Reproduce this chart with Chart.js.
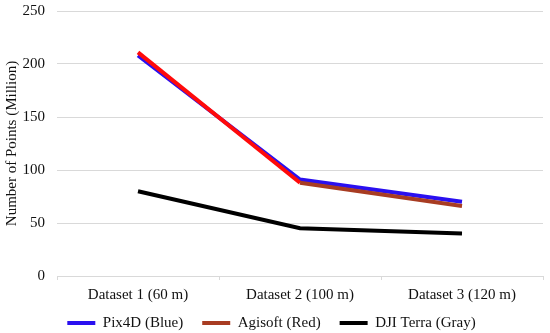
<!DOCTYPE html>
<html>
<head>
<meta charset="utf-8">
<script src="https://cdn.jsdelivr.net/npm/chart.js@4/dist/chart.umd.min.js"></script>
<style>
html,body{margin:0;padding:0;background:#fff;}
#wrap{width:550px;height:333px;}
</style>
</head>
<body>
<div id="wrap"><canvas id="c" width="550" height="333"></canvas></div>
<script>
const categories = ["Dataset 1 (60 m)", "Dataset 2 (100 m)", "Dataset 3 (120 m)"];
const pix4d = [208, 91, 70];
const agisoft = [211, 88, 66];
const djiTerra = [80, 45, 40];
const yTicks = [0, 50, 100, 150, 200, 250];

const FONT = "'Liberation Serif', 'Times New Roman', serif";

const legendShift = {
  id: 'legendShift',
  afterLayout(chart) {
    const lg = chart.legend;
    lg.top = 296.5;
    lg.bottom = chart.height;
    lg.height = lg.bottom - lg.top;
  }
};

new Chart(document.getElementById('c'), {
  type: 'line',
  plugins: [legendShift],
  data: {
    labels: categories,
    datasets: [
      {
        label: 'Pix4D (Blue)',
        data: pix4d,
        borderColor: '#2a10f0',
        backgroundColor: '#2a10f0',
        borderWidth: 4,
        pointRadius: 0,
        tension: 0,
        order: 1
      },
      {
        label: 'Agisoft (Red)',
        data: agisoft,
        borderColor: '#a83c22',
        backgroundColor: '#a83c22',
        borderWidth: 4,
        pointRadius: 0,
        tension: 0,
        order: 0,
        segment: {
          borderColor: c => c.p0DataIndex === 0 ? '#ff0a0a' : '#a83c22'
        }
      },
      {
        label: 'DJI Terra (Gray)',
        data: djiTerra,
        borderColor: '#000000',
        backgroundColor: '#000000',
        borderWidth: 4,
        pointRadius: 0,
        tension: 0,
        order: 2
      }
    ]
  },
  options: {
    responsive: false,
    animation: false,
    devicePixelRatio: 1,
    layout: { padding: { top: 11, right: 7, left: 0, bottom: 0 } },
    plugins: {
      tooltip: { enabled: false },
      legend: {
        position: 'bottom',
        maxHeight: 28,
        labels: {
          usePointStyle: true,
          pointStyle: 'line',
          pointStyleWidth: 28,
          boxHeight: 4,
          color: '#111',
          padding: 19,
          sort: (a, b) => a.datasetIndex - b.datasetIndex,
          font: { family: FONT, size: 15 }
        }
      }
    },
    scales: {
      x: {
        offset: true,
        afterFit: s => { s.height = 29; },
        grid: {
          offset: true,
          drawOnChartArea: false,
          drawTicks: true,
          tickLength: 4,
          color: '#d9d9d9'
        },
        border: { display: true, color: '#d9d9d9', width: 1 },
        ticks: {
          color: '#111',
          padding: 6,
          maxRotation: 0,
          font: { family: FONT, size: 15 }
        }
      },
      y: {
        min: 0,
        max: 250,
        afterBuildTicks: axis => { axis.ticks = yTicks.map(v => ({ value: v })); },
        afterFit: s => { s.width = 57; s.paddingTop = 0; s.paddingBottom = 0; },
        grid: {
          color: '#d9d9d9',
          lineWidth: 1,
          drawTicks: false
        },
        border: { display: false },
        ticks: {
          color: '#111',
          padding: 12,
          font: { family: FONT, size: 15 }
        },
        title: {
          display: true,
          text: 'Number of Points (Million)',
          color: '#111',
          padding: { top: 3, bottom: 0 },
          font: { family: FONT, size: 15 }
        }
      }
    }
  }
});
</script>
</body>
</html>
